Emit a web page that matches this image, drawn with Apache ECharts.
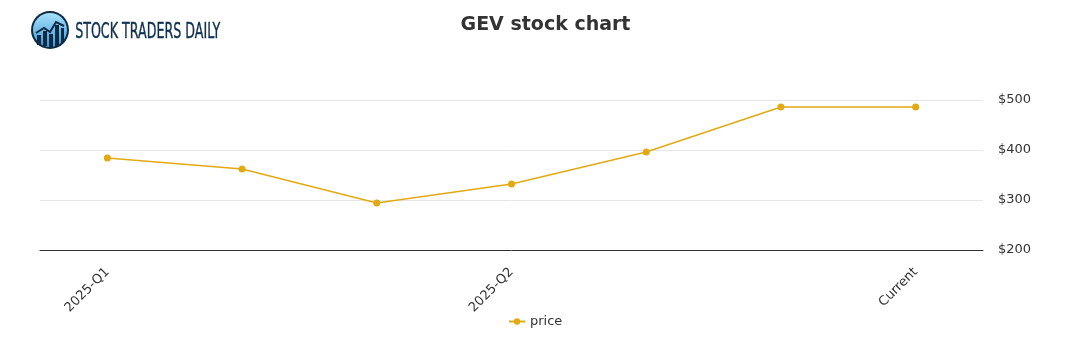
<!DOCTYPE html>
<html><head><meta charset="utf-8">
<script src="https://cdn.jsdelivr.net/npm/echarts@6/dist/echarts.min.js"></script>
<style>html,body{margin:0;padding:0;background:#fff}#c{width:1091px;height:350px}</style>
</head><body><div id="c"></div>
<script>
const categories = ['2025-Q1', '', '', '2025-Q2', '', '', 'Current'];
const priceValues = [384, 362, 294, 332, 396, 486, 486];
const yTicks = [200, 300, 400, 500];
const chartTitle = 'GEV stock chart';
const seriesName = 'price';

const chart = echarts.init(document.getElementById('c'), null, {renderer: 'canvas'});
const F = 'DejaVu Sans, sans-serif';
chart.setOption({
  animation: false,
  title: {text: chartTitle, left: 'center', top: 11,
    textStyle: {fontFamily: F, fontSize: 19, fontWeight: 'bold', color: '#333'}},
  legend: {data: [seriesName], top: 310, left: 503, itemWidth: 16, itemHeight: 8, itemGap: 6,
    textStyle: {fontFamily: F, fontSize: 13, color: '#333'}},
  grid: {left: 40, right: 108, top: 100, bottom: 100},
  xAxis: {type: 'category', data: categories, boundaryGap: true,
    axisLine: {lineStyle: {color: '#333', width: 1}}, axisTick: {show: false},
    axisLabel: {interval: 0, rotate: 45, fontFamily: F, fontSize: 13, color: '#333', margin: 20}},
  yAxis: {type: 'value', position: 'right', min: yTicks[0], max: yTicks[yTicks.length-1], interval: 100,
    axisLine: {show: false}, axisTick: {show: false},
    splitLine: {lineStyle: {color: '#e6e6e6'}},
    axisLabel: {fontFamily: F, fontSize: 13, color: '#333', margin: 15, formatter: v => '$' + v}},
  series: [{name: seriesName, type: 'line', data: priceValues, symbol: 'circle', symbolSize: 7,
    itemStyle: {color: '#E1AA14'}, lineStyle: {color: '#E1AA14', width: 1.6}}],
  graphic: [
    {type: 'circle', shape: {cx: 50, cy: 30, r: 19}, style: {fill: '#0e2a44'}},
    {type: 'circle', shape: {cx: 50, cy: 30, r: 17}, style: {fill: new echarts.graphic.LinearGradient(0,0,0,1,[{offset:0,color:'#a6e0fb'},{offset:1,color:'#3d9ad8'}])}},
    {type: 'rect', shape: {x: 37, y: 35, width: 4, height: 10}, style: {fill: '#0e2a44'}},
    {type: 'rect', shape: {x: 43, y: 31, width: 4, height: 15}, style: {fill: '#0e2a44'}},
    {type: 'rect', shape: {x: 49, y: 34, width: 4, height: 13}, style: {fill: '#0e2a44'}},
    {type: 'rect', shape: {x: 55, y: 25, width: 4, height: 21}, style: {fill: '#0e2a44'}},
    {type: 'rect', shape: {x: 61, y: 28, width: 3, height: 15}, style: {fill: '#0e2a44'}},
    {type: 'polyline', shape: {points: [[36,33],[44,28],[50,32],[56,22],[64,26]]}, style: {stroke: '#0e2a44', lineWidth: 2, fill: null}},
    {type: 'text', left: 75, top: 21, style: {text: 'STOCK TRADERS DAILY', fontFamily: 'DejaVu Sans Condensed, Liberation Sans Narrow, sans-serif', fontSize: 22, fill: '#0f3150', fontWeight: 'normal', stroke: '#0f3150', lineWidth: 0.4}, scaleX: 0.64}
  ]
});
</script></body></html>
